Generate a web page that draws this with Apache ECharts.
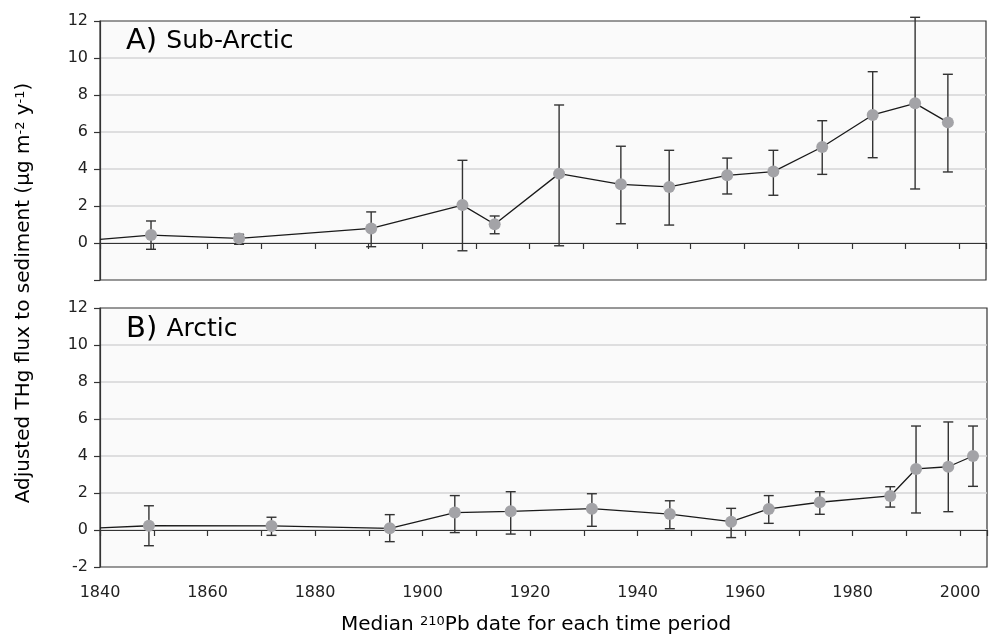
<!DOCTYPE html>
<html>
<head>
<meta charset="utf-8">
<script src="https://cdn.jsdelivr.net/npm/echarts@6/dist/echarts.min.js"></script>
<style>
  html, body { margin: 0; padding: 0; background: #fff; }
  #chart { width: 990px; height: 635px; }
</style>
</head>
<body>
<div id="chart"></div>
<script>
// values
var lineStartYear = 1840;

// A) Sub-Arctic
var subStartFlux = 0.2;
var subYears = [1849.5, 1865.9, 1890.5, 1907.5, 1913.5, 1925.5, 1937.0, 1946.0, 1956.8, 1965.4, 1974.5, 1983.9, 1991.8, 1997.9];
var subFlux  = [0.43, 0.25, 0.79, 2.05, 1.01, 3.75, 3.17, 3.03, 3.66, 3.86, 5.19, 6.92, 7.55, 6.52];
var subLow   = [-0.34, -0.07, -0.2, -0.42, 0.5, -0.15, 1.04, 0.97, 2.65, 2.58, 3.71, 4.61, 2.92, 3.84];
var subHigh  = [1.19, 0.47, 1.68, 4.47, 1.46, 7.46, 5.23, 5.01, 4.59, 5.01, 6.61, 9.26, 12.2, 9.12];

// B) Arctic
var arcStartFlux = 0.12;
var arcYears = [1849.1, 1871.9, 1893.9, 1906.0, 1916.4, 1931.5, 1946.0, 1957.4, 1964.4, 1973.9, 1987.0, 1991.8, 1997.8, 2002.4];
var arcFlux  = [0.23, 0.22, 0.09, 0.94, 1.01, 1.15, 0.86, 0.45, 1.14, 1.5, 1.84, 3.3, 3.42, 4.0];
var arcLow   = [-0.85, -0.29, -0.63, -0.14, -0.22, 0.2, 0.07, -0.41, 0.36, 0.85, 1.24, 0.92, 0.99, 2.36];
var arcHigh  = [1.31, 0.69, 0.83, 1.86, 2.07, 1.96, 1.58, 1.17, 1.86, 2.07, 2.34, 5.62, 5.84, 5.62];

var FONT = 'DejaVu Sans';
var dom = document.getElementById('chart');
var myChart = echarts.init(dom);

function lineData(startFlux, years, flux) {
  var d = [{ value: [lineStartYear, startFlux], symbol: 'none' }];
  for (var i = 0; i < years.length; i++) d.push([years[i], flux[i]]);
  return d;
}

function barData(years, low, high) {
  return years.map(function (y, i) { return [y, low[i], high[i]]; });
}

function renderBar(params, api) {
  var x = api.value(0);
  var lo = api.coord([x, api.value(1)]);
  var hi = api.coord([x, api.value(2)]);
  var w = 5;
  var st = { stroke: '#333', lineWidth: 1.4 };
  return {
    type: 'group',
    children: [
      { type: 'line', shape: { x1: lo[0], y1: lo[1], x2: hi[0], y2: hi[1] }, style: st },
      { type: 'line', shape: { x1: lo[0] - w, y1: lo[1], x2: lo[0] + w, y2: lo[1] }, style: st },
      { type: 'line', shape: { x1: hi[0] - w, y1: hi[1], x2: hi[0] + w, y2: hi[1] }, style: st }
    ]
  };
}

function yAxis(idx, hideMin) {
  return {
    type: 'value', gridIndex: idx, min: -2, max: 12, interval: 2,
    axisLine: { show: true, lineStyle: { color: '#333', width: 1.2 } },
    axisTick: { show: true, length: 6, lineStyle: { color: '#333', width: 1.2 } },
    axisLabel: {
      fontFamily: FONT, fontSize: 16, color: '#222', margin: 12,
      formatter: function (v) { return (hideMin && v === -2) ? '' : v; }
    },
    splitLine: { show: true, showMinLine: false, showMaxLine: false, lineStyle: { color: '#d4d4d6', width: 1.5 } }
  };
}

function xAxis(idx, labels) {
  return {
    type: 'value', gridIndex: idx, min: 1840, max: 2005, interval: 10,
    axisLine: { show: true, lineStyle: { color: '#333', width: 1.2 } },
    axisTick: { show: true, length: 6, lineStyle: { color: '#333', width: 1.2 } },
    axisLabel: {
      show: labels, fontFamily: FONT, fontSize: 16, color: '#222', margin: 18,
      formatter: function (v) { return v % 20 === 0 ? v : ''; }
    },
    splitLine: { show: false }
  };
}

var sup = { fontFamily: FONT, fontSize: 13, color: '#222', verticalAlign: 'top', lineHeight: 20 };
var norm = { fontFamily: FONT, fontSize: 20, color: '#222', lineHeight: 20 };
var panelRich = {
  a: { fontFamily: FONT, fontSize: 29, color: '#222' },
  b: { fontFamily: FONT, fontSize: 25, color: '#222' }
};

option = {
  backgroundColor: '#fff',
  animation: false,
  grid: [
    { left: 100, top: 21, width: 886, height: 259, show: true, backgroundColor: '#fafafa', borderColor: '#333', borderWidth: 1.2 },
    { left: 100, top: 308, width: 889, height: 259, show: true, backgroundColor: '#fafafa', borderColor: '#333', borderWidth: 1.2 }
  ],
  xAxis: [xAxis(0, false), xAxis(1, true)],
  yAxis: [yAxis(0, true), yAxis(1, false)],
  series: [
    {
      name: 'Sub-Arctic bars', type: 'custom', xAxisIndex: 0, yAxisIndex: 0, z: 2, clip: false,
      renderItem: renderBar, encode: { x: 0, y: [1, 2] },
      data: barData(subYears, subLow, subHigh)
    },
    {
      name: 'Sub-Arctic', type: 'line', xAxisIndex: 0, yAxisIndex: 0, z: 3,
      symbol: 'circle', symbolSize: 12,
      itemStyle: { color: '#a3a3a7' },
      lineStyle: { color: '#1a1a1a', width: 1.3 },
      data: lineData(subStartFlux, subYears, subFlux)
    },
    {
      name: 'Arctic bars', type: 'custom', xAxisIndex: 1, yAxisIndex: 1, z: 2, clip: false,
      renderItem: renderBar, encode: { x: 0, y: [1, 2] },
      data: barData(arcYears, arcLow, arcHigh)
    },
    {
      name: 'Arctic', type: 'line', xAxisIndex: 1, yAxisIndex: 1, z: 3,
      symbol: 'circle', symbolSize: 12,
      itemStyle: { color: '#a3a3a7' },
      lineStyle: { color: '#1a1a1a', width: 1.3 },
      data: lineData(arcStartFlux, arcYears, arcFlux)
    }
  ],
  graphic: [
    {
      type: 'text', left: 126, top: 27, z: 10,
      style: { text: '{a|A) }{b|Sub-Arctic}', rich: panelRich }
    },
    {
      type: 'text', left: 126, top: 315, z: 10,
      style: { text: '{a|B) }{b|Arctic}', rich: panelRich }
    },
    {
      type: 'text', x: 24, y: 293, rotation: Math.PI / 2, z: 10,
      style: {
        text: '{n|Adjusted THg flux to sediment (μg m}{s|-2}{n| y}{s|-1}{n|)}',
        rich: { n: norm, s: sup },
        align: 'center', verticalAlign: 'middle'
      }
    },
    {
      type: 'text', x: 536, y: 625, z: 10,
      style: {
        text: '{n|Median }{s|210}{n|Pb date for each time period}',
        rich: { n: norm, s: sup },
        align: 'center', verticalAlign: 'middle'
      }
    }
  ]
};

if (option && typeof option === 'object') {
  myChart.setOption(option, true);
}
</script>
</body>
</html>
